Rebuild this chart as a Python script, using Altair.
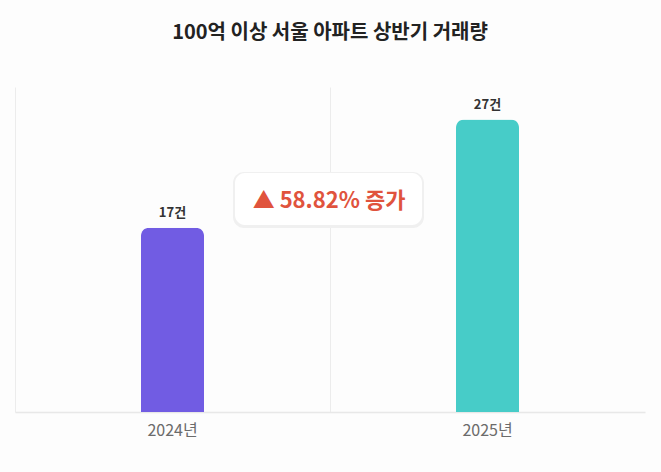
import altair as alt
import pandas as pd

years = ["2024년", "2025년"]
counts = [17, 27]
bar_colors = ["#715CE3", "#47CCC8"]
unit = "건"
title_text = "100억 이상 서울 아파트 상반기 거래량"

change = (counts[1] - counts[0]) / counts[0] * 100
note_text = f"▲ {change:.2f}% 증가"

df = pd.DataFrame({
    "year": years,
    "count": counts,
    "label": [f"{c}{unit}" for c in counts],
    "color": bar_colors,
})

FONT = "Noto Sans CJK KR"

x_enc = alt.X("year:N", sort=years, title=None,
              scale=alt.Scale(paddingInner=0, paddingOuter=0),
              axis=alt.Axis(labelAngle=0, labelFontSize=16, labelColor="#6b6b6b",
                            labelFont=FONT, labelPadding=10, ticks=False,
                            domainColor="#e8e8e8", domainWidth=1.5,
                            grid=True, gridColor="#ececec", bandPosition=0))
y_enc = alt.Y("count:Q", title=None, scale=alt.Scale(domain=[0, 30], nice=False),
              axis=None)

bars = alt.Chart(df).mark_bar(size=63, cornerRadiusTopLeft=8, cornerRadiusTopRight=8).encode(
    x=x_enc, y=y_enc,
    color=alt.Color("color:N", scale=None),
)

labels = alt.Chart(df).mark_text(dy=-15, fontSize=13, fontWeight="bold",
                                 font=FONT, color="#333333").encode(
    x=alt.X("year:N", sort=years), y="count:Q", text="label:N"
)

note_df = pd.DataFrame({"text": [note_text]})

shadow = alt.Chart(note_df).mark_rect(cornerRadius=11, fill="#f0f0f0").encode(
    x=alt.value(218), x2=alt.value(409), y=alt.value(85), y2=alt.value(141)
)
box = alt.Chart(note_df).mark_rect(cornerRadius=10, fill="white").encode(
    x=alt.value(220), x2=alt.value(407), y=alt.value(86), y2=alt.value(138)
)
note = alt.Chart(note_df).mark_text(fontSize=22, fontWeight="bold", font=FONT,
                                    color="#E0533D", align="center", baseline="middle").encode(
    x=alt.value(314), y=alt.value(114), text="text:N"
)

chart = alt.layer(bars, shadow, box, note, labels).properties(
    width=630, height=325,
    title=alt.TitleParams(title_text, fontSize=20, fontWeight="bold", font=FONT,
                          color="#222222", offset=44, anchor="middle"),
    background="#fdfdfd",
    padding={"left": 15, "top": 87, "right": 16, "bottom": 60},
    autosize=alt.AutoSizeParams(type="none"),
).configure_view(stroke=None)

chart.save("out.html", embed_options={"renderer": "svg", "actions": False})
